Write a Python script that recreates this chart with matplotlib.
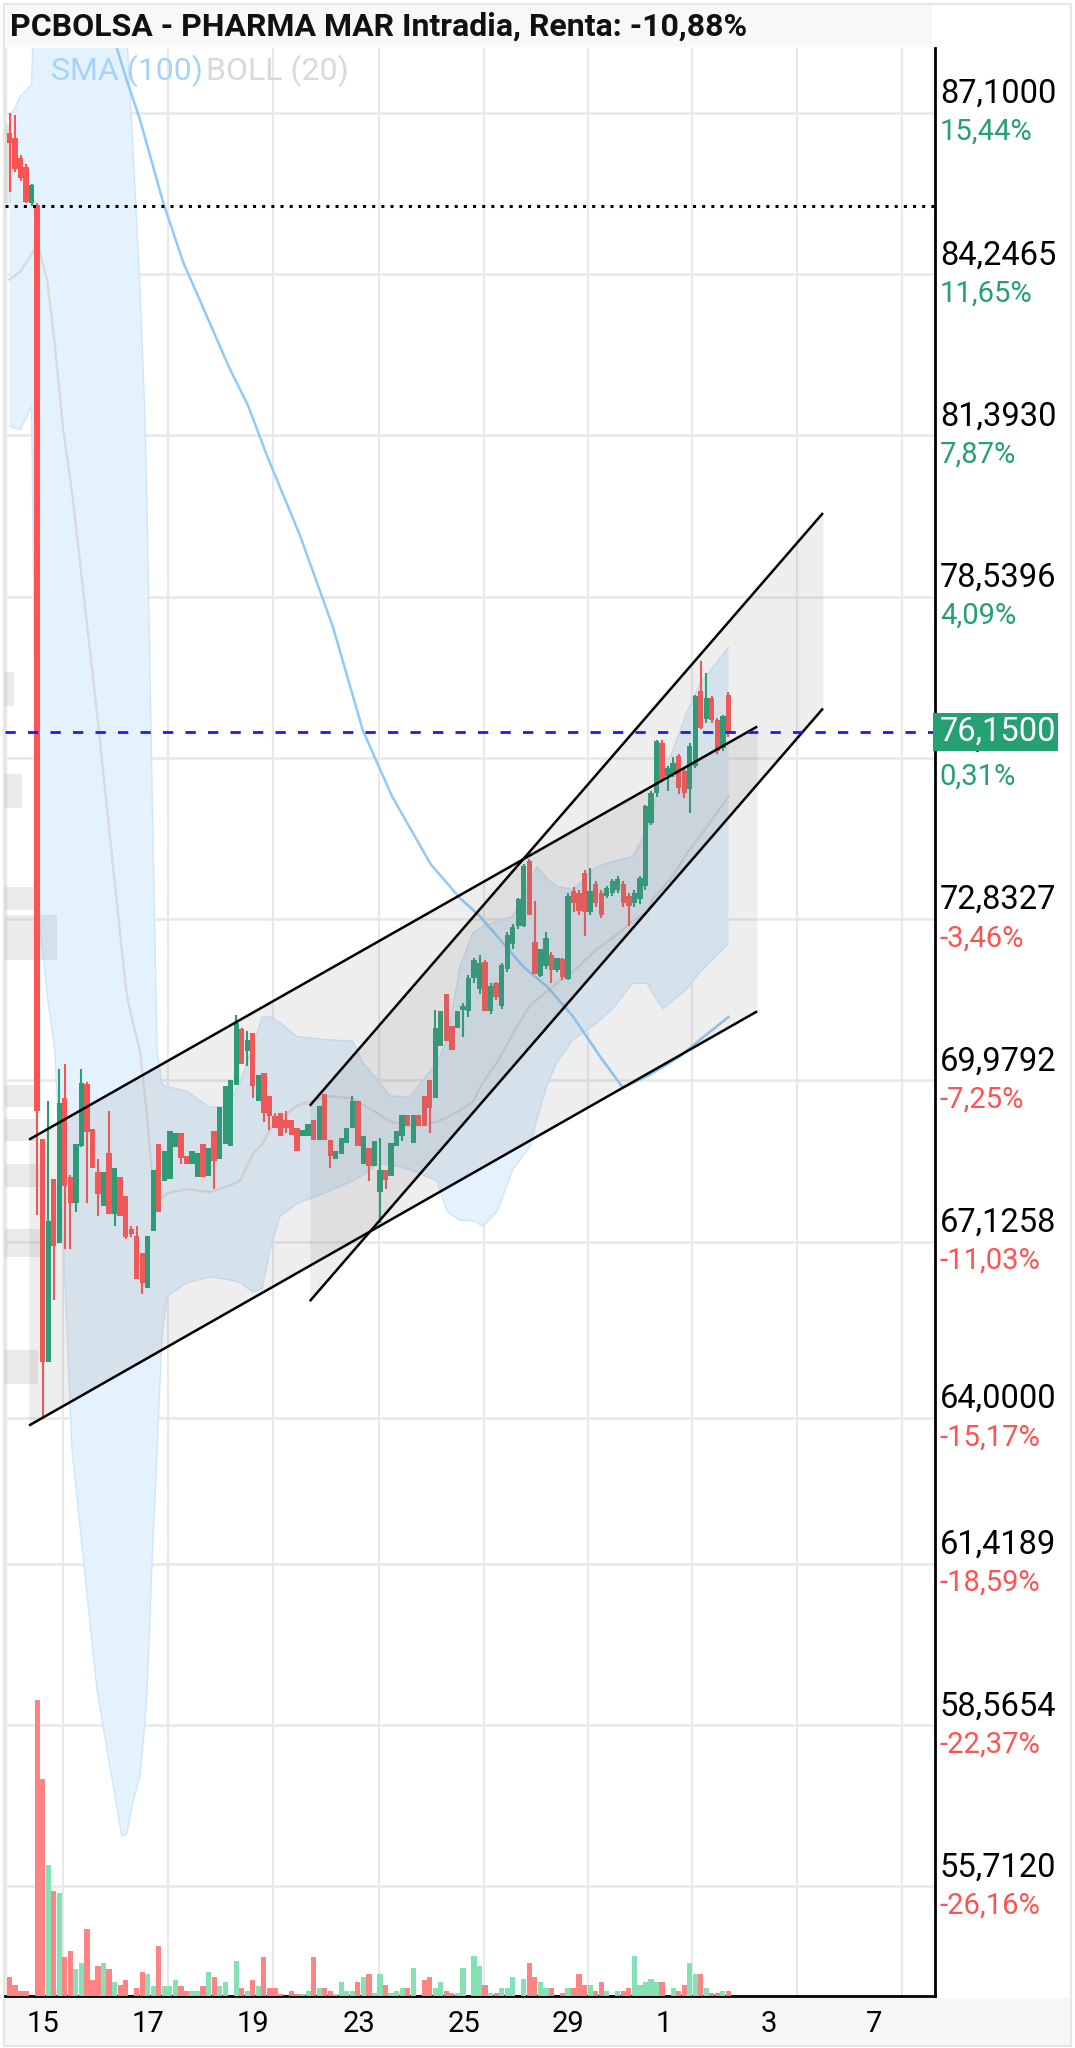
import numpy as np
import matplotlib.pyplot as plt
from matplotlib.patches import Rectangle

plt.rcParams['font.family'] = ['Roboto', 'DejaVu Sans']

# velas (barras horarias)
opens = [86.75, 86.66, 86.30, 86.15, 85.50, 85.47,
         68.94, 64.99, 68.23, 67.10, 69.67, 68.26, 67.81, 68.82, 69.91, 69.11,
         68.35, 67.76, 68.70, 67.61, 68.26, 67.93, 67.35, 67.23, 66.93, 66.31,
         67.31, 68.85, 68.20, 68.23, 68.80, 69.05, 68.64, 68.50, 68.26, 68.85,
         68.29, 69.08, 68.58, 68.85, 68.82,
         69.90, 70.88, 70.50, 70.82, 69.61, 70.11, 69.70, 69.34, 69.40, 69.28,
         69.28, 69.14, 69.00, 69.00, 69.28, 68.93, 69.73, 68.93, 68.58, 68.67,
         68.87, 69.14, 69.61, 68.49, 68.78, 68.46, 68.00, 68.40, 68.28, 68.81,
         69.00, 69.37, 68.87, 69.37, 69.70, 69.99, 69.67, 70.58, 71.50, 70.94,
         70.90, 71.23,
         71.20, 71.79, 71.60, 72.08, 71.20, 71.70, 71.29, 71.95, 72.40, 72.71,
         72.71, 73.86, 72.42, 71.82, 72.00, 72.20, 71.94, 72.12, 71.77, 73.33,
         73.30, 73.65, 72.95, 73.45, 73.30, 73.24, 73.30, 73.35, 73.45, 73.24,
         73.12, 73.18, 73.42, 74.54, 75.07, 75.95, 75.36, 75.40, 75.72, 75.45,
         75.13, 75.54, 76.87, 76.37, 76.74, 76.36, 75.86, 76.80]
highs = [87.10, 87.06, 86.35, 86.20, 85.85, 85.50,
         68.94, 69.61, 68.23, 70.18, 70.26, 68.30, 68.85, 70.18, 69.95, 69.11,
         68.58, 68.35, 69.44, 68.43, 68.26, 67.93, 67.40, 67.40, 66.93, 67.23,
         68.40, 68.85, 68.73, 69.08, 69.05, 69.05, 68.64, 68.73, 68.70, 68.85,
         68.79, 69.08, 69.50, 69.88, 69.99,
         71.14, 70.90, 70.85, 70.82, 70.08, 70.11, 69.70, 69.40, 69.40, 69.43,
         69.28, 69.14, 69.10, 69.20, 69.28, 69.52, 69.73, 68.93, 68.73, 68.96,
         69.14, 69.70, 69.61, 68.99, 68.78, 68.90, 68.96, 68.40, 68.87, 69.08,
         69.37, 69.37, 69.37, 69.37, 69.70, 69.99, 71.23, 71.20, 71.50, 70.94,
         71.20, 71.35,
         71.85, 72.15, 72.20, 72.10, 71.70, 71.72, 72.05, 72.60, 72.75, 73.20,
         73.80, 73.90, 73.15, 72.30, 72.60, 72.25, 72.15, 72.15, 73.30, 73.40,
         73.35, 73.70, 73.74, 73.50, 73.35, 73.42, 73.55, 73.60, 73.50, 73.30,
         73.35, 73.60, 74.85, 75.10, 76.00, 76.00, 75.55, 75.70, 75.75, 75.50,
         75.95, 76.80, 77.40, 77.19, 76.78, 76.40, 76.45, 76.85]
lows = [85.70, 86.05, 85.90, 85.50, 85.46, 67.60,
        64.00, 64.99, 66.10, 67.10, 66.99, 66.99, 67.64, 68.80, 67.81, 68.43,
        67.58, 67.76, 67.61, 67.40, 67.58, 67.17, 67.20, 66.46, 66.19, 66.31,
        67.31, 67.64, 68.20, 68.23, 68.80, 68.50, 68.50, 68.50, 68.26, 68.26,
        68.29, 68.05, 68.58, 68.85, 68.81,
        69.90, 70.26, 70.23, 69.67, 69.61, 69.25, 69.10, 69.14, 68.99, 69.05,
        69.02, 68.72, 69.00, 69.00, 68.93, 68.93, 68.93, 68.43, 68.58, 68.67,
        68.87, 69.14, 68.81, 68.49, 68.20, 68.46, 67.46, 68.05, 68.28, 68.81,
        68.90, 69.17, 68.87, 69.17, 69.17, 69.05, 69.67, 70.58, 70.67, 70.52,
        70.90, 70.75,
        71.10, 71.70, 71.50, 71.20, 71.15, 71.40, 71.25, 71.90, 72.30, 72.65,
        72.70, 72.90, 71.86, 71.80, 71.95, 71.70, 71.90, 71.75, 71.75, 72.95,
        72.90, 72.53, 72.90, 73.05, 72.85, 73.20, 73.25, 73.30, 73.05, 72.71,
        73.05, 73.10, 73.35, 74.50, 75.00, 75.30, 75.10, 75.35, 75.05, 74.98,
        74.71, 75.50, 76.20, 76.30, 76.30, 75.75, 75.80, 76.05]
closes = [86.57, 86.10, 85.95, 85.53, 85.83, 69.44,
          64.99, 67.49, 67.05, 69.58, 68.11, 67.81, 68.85, 69.94, 69.06, 68.43,
          67.96, 68.35, 67.61, 68.43, 67.58, 67.20, 67.26, 66.46, 66.40, 67.23,
          68.40, 67.64, 68.73, 69.08, 69.05, 68.61, 68.50, 68.73, 68.70, 68.26,
          68.79, 68.55, 69.50, 69.88, 69.99,
          71.00, 70.26, 70.70, 69.87, 70.08, 69.40, 69.34, 69.14, 69.00, 69.14,
          69.02, 68.72, 69.10, 69.20, 68.93, 69.52, 68.93, 68.64, 68.73, 68.96,
          69.14, 69.61, 68.81, 68.99, 68.46, 68.90, 68.40, 68.22, 68.87, 69.08,
          69.37, 69.17, 69.37, 69.17, 69.17, 69.49, 70.91, 71.20, 70.67, 70.52,
          71.20, 71.29,
          71.79, 72.11, 72.05, 71.20, 71.65, 71.45, 72.02, 72.55, 72.70, 73.18,
          73.77, 72.90, 71.86, 72.30, 72.50, 71.94, 72.15, 71.80, 73.24, 73.12,
          72.97, 72.95, 73.33, 73.12, 72.90, 73.39, 73.50, 73.55, 73.12, 73.06,
          73.30, 73.56, 74.83, 75.07, 75.98, 75.30, 75.50, 75.60, 75.16, 75.07,
          75.90, 76.78, 76.22, 76.75, 76.36, 75.80, 76.42, 76.15]
volume = [19, 11, 5, 5, 0, 292, 214, 129, 104, 102, 38, 44, 27, 33,
          66, 16, 30, 33, 27, 14, 11, 16, 0, 8, 24, 22, 10, 49, 10,
          10, 16, 10, 5, 5, 5, 10, 24, 19, 10, 14, 0, 35, 8,
          5, 16, 10, 38, 8, 8, 2, 0, 5, 2, 2, 5, 38, 8, 8, 5, 2, 14, 5,
          5, 14, 19,
          22, 3, 22, 11, 3, 5, 8, 8, 28, 0, 16, 19, 8, 14, 5, 3, 3, 28, 0,
          39, 30, 11, 3, 3, 8, 8, 19, 0, 17, 33, 19, 14, 8, 8, 0, 3,
          8, 8, 22, 11, 11, 5, 14, 5, 0, 5, 5, 8, 39, 11, 14, 17, 14, 14, 0,
          8, 5, 11, 33, 22, 22, 8, 3, 3, 5, 5]

# indicadores leidos (posicion en barras)
sma_x = [18.0, 19.4, 21.2, 23.6, 27.8, 31.4, 34.4, 39.7, 43.1, 46.7, 52.5, 58.5,
         63.9, 69.2, 76.2, 81.5, 85.1, 88.7, 92.9, 97.2, 101.9, 106.8, 110.9,
         115.3, 118.2, 121.2, 124.9, 130.0]
sma_v = [89.0, 88.25, 87.68, 86.98, 85.51, 84.46, 83.79, 82.6, 81.93, 81.0, 79.63,
         78.0, 76.17, 75.0, 73.8, 73.2, 72.88, 72.47, 71.99, 71.64, 71.11, 70.4,
         69.85, 70.05, 70.22, 70.4, 70.7, 71.1]

boll_x = [0, 2, 4, 5, 6.8, 8.2, 9.7, 11.3, 15.8, 20.3, 21.2, 22.3, 23.6, 24.5, 24.9,
          25.8, 26.7, 27.6, 28.5, 32.1, 36.3, 39.3, 41.7, 44, 45.7, 47.1, 48.9, 52,
          57.4, 62.1, 63.9, 66.5, 68.8, 72.4, 74.8, 77.3, 79.1, 81.5, 83.8, 85.6,
          88.2, 91, 94.1, 95.4, 97.2, 99, 101.9, 106.2, 109.1, 112.7, 115.3, 116.4,
          118.2, 120, 122.5, 124.9, 130]
boll_up = [87.0, 87.4, 87.6, 91.5, 92.5, 93, 93, 93, 92.5, 91, 88.5, 86.5, 84, 81.7, 80,
           75, 70.5, 69.9, 69.87, 69.78, 69.5, 69.52, 69.94, 70.6, 71.1, 71.1, 71.0,
           70.75, 70.7, 70.67, 70.29, 69.99, 69.7, 69.68, 69.99, 70.29, 70.7, 72.0,
           72.59, 72.7, 72.8, 72.88, 73.5, 73.76, 73.55, 73.41, 73.36, 73.76, 73.85,
           73.94, 74.4, 74.82, 75.4, 75.83, 76.5, 77.0, 77.64]
boll_mid = [84.15, 84.3, 84.6, 84.8, 84.15, 83.0, 81.5, 80.4, 76.5, 72.3, 71.5, 71.0,
            70.5, 69.7, 69.3, 68.3, 67.82, 67.9, 67.98, 68.05, 68.0, 68.1, 68.2, 68.68,
            68.85, 69.1, 69.3, 69.53, 69.7, 69.66, 69.55, 69.4, 69.25, 69.18, 69.18,
            69.25, 69.32, 69.45, 69.6, 69.94, 70.3, 70.8, 71.3, 71.41, 71.55, 71.7,
            71.9, 72.3, 72.5, 72.8, 72.95, 73.2, 73.4, 73.6, 74.0, 74.3, 75.0]
boll_low = [81.55, 81.5, 81.9, 73.2, 71.5, 70.5, 67.2, 63.45, 59.2, 56.6, 56.64, 57.2,
            57.66, 58.62, 59.2, 61.5, 63.45, 65.5, 66.16, 66.4, 66.5, 66.46, 66.4,
            66.23, 66.3, 66.99, 67.57, 67.8, 68.0, 68.2, 68.3, 68.5, 68.5, 68.4, 68.3,
            68.2, 67.66, 67.5, 67.5, 67.4, 67.66, 68.4, 68.8, 69.3, 69.9, 70.3, 70.7,
            71.0, 71.25, 71.7, 71.7, 71.5, 71.25, 71.4, 71.6, 71.9, 72.4]

# volumen por precio (gris a la izquierda)
vp_price = [86.2, 76.9, 75.1, 73.2, 72.5, 69.7, 69.1, 68.3, 67.1, 64.9]
vp_size = [6, 9, 17, 33, 52, 33, 33, 40, 40, 33]
vp_height = [1.4, 0.6, 0.6, 0.4, 0.8, 0.4, 0.4, 0.4, 0.5, 0.6]

# canales dibujados
ch1_x = [3.53, 135.2]
ch1_up = [68.93, 76.24]
ch1_lo = [63.87, 71.2]
ch2_x = [54.3, 147.1]
ch2_up = [69.53, 80.02]
ch2_lo = [66.07, 76.56]

grid_prices = [87.1000, 84.2465, 81.3930, 78.5396, 75.6861, 72.8327, 69.9792,
               67.1258, 64.0000, 61.4189, 58.5654, 55.7120]
grid_pcts = ['15,44%', '11,65%', '7,87%', '4,09%', '0,31%', '-3,46%', '-7,25%',
             '-11,03%', '-15,17%', '-18,59%', '-22,37%', '-26,16%']
last_price = 76.15
prev_close = 85.45
day_grid = [9.67, 28.66, 47.65, 66.82, 85.8, 104.6, 123.4, 142.4, 161.4]
day_labels = ['15', '17', '19', '23', '25', '29', '1', '3', '7']

W, H = 1075, 2048
fig = plt.figure(figsize=(W / 100, H / 100), dpi=100)
fig.patch.set_facecolor('white')

ax = fig.add_axes([5 / W, 52 / H, 930 / W, 1948 / H])
ax.set_xlim((5 - 9.5) / 5.53, (935 - 9.5) / 5.53)
ax.set_ylim(53.773, 88.25)
ax.set_xticks([])
ax.set_yticks([])
for s in ['top', 'left']:
    ax.spines[s].set_visible(False)
for s in ['right', 'bottom']:
    ax.spines[s].set_color('black')
    ax.spines[s].set_linewidth(2.0)

# rejilla
GRID = '#e8e8e8'
for p in grid_prices:
    ax.axhline(p, color=GRID, lw=1.8, zorder=0.5)
for g in day_grid:
    ax.axvline(g, color=GRID, lw=1.5, zorder=0.5)
ax.axvline(ax.get_xlim()[0], color=GRID, lw=2.5, zorder=0.5)

# bandas de bollinger
ax.fill_between(boll_x, boll_low, boll_up, color='#e3f2fd', lw=0, zorder=1)
ax.plot(boll_x, boll_up, color='#cfe6fa', lw=1.0, zorder=1.1)
ax.plot(boll_x, boll_low, color='#cfe6fa', lw=1.0, zorder=1.1)
ax.plot(boll_x, boll_mid, color='#d9d9d9', lw=1.6, zorder=1.2)

# volumen por precio
xl = ax.get_xlim()[0]
ax.barh(vp_price, np.array(vp_size) / 5.53, height=vp_height, left=xl,
        color='#9e9e9e', alpha=0.2, lw=0, zorder=1.3)

# media 100
ax.plot(sma_x, sma_v, color='#90caf9', lw=1.8, zorder=2.5)

# velas
x = np.arange(len(closes))
o = np.array(opens)
c = np.array(closes)
up = c >= o
col = np.where(up, '#22a077', '#ff5252')
ax.vlines(x, lows, highs, colors=col, lw=1.5, zorder=3)
body = np.maximum(np.abs(c - o), 0.04)
ax.bar(x, body, bottom=np.minimum(o, c), width=0.96, color=col, lw=0, zorder=3)

# canales
for cx, cu, cl in [(ch1_x, ch1_up, ch1_lo), (ch2_x, ch2_up, ch2_lo)]:
    ax.fill_between(cx, cl, cu, color='#808080', alpha=0.135, lw=0, zorder=4)
    ax.plot(cx, cu, color='black', lw=1.8, zorder=5, solid_capstyle='butt')
    ax.plot(cx, cl, color='black', lw=1.8, zorder=5, solid_capstyle='butt')

# lineas de referencia
ax.axhline(prev_close, color='black', lw=2.2, ls=(0, (1, 2.0)), zorder=6)
ax.axhline(last_price, color='#1a1aff', lw=2.0, ls=(0, (3.7, 4.4)), zorder=6)

# volumen
axv = ax.twinx()
axv.set_ylim(0, max(volume) * 1948 / 296)
axv.set_xlim(ax.get_xlim())
axv.axis('off')
vcol = np.where(up, '#84e1b3', '#ff8383')
axv.bar(x, volume, width=0.94, color=vcol, lw=0)

# etiquetas de precio a la derecha
ytr = ax.get_yaxis_transform()
for p, pct in zip(grid_prices, grid_pcts):
    ax.annotate(f'{p:.4f}'.replace('.', ','), xy=(1, p), xycoords=ytr,
                xytext=(3.5, 13.7), textcoords='offset points', ha='left',
                va='center', fontsize=23.5, color='black', annotation_clip=False)
    ax.annotate(pct, xy=(1, p), xycoords=ytr, xytext=(3.5, -13.7),
                textcoords='offset points', ha='left', va='center', fontsize=21,
                color='#ff5252' if pct.startswith('-') else '#26a072',
                annotation_clip=False)

# precio actual
ax.add_patch(Rectangle((0.9978, last_price - 0.336), 0.1344, 0.672, transform=ytr,
                       facecolor='#26a072', edgecolor='none', clip_on=False, zorder=10))
ax.text(1.0054, last_price, f'{last_price:.4f}'.replace('.', ','), transform=ytr,
        ha='left', va='center', fontsize=23.5, color='white', zorder=11, clip_on=False)

# eje de fechas
xtr = ax.get_xaxis_transform()
for g, lab in zip(day_grid, day_labels):
    ax.text(g - 6.5, -0.0144, lab, transform=xtr, ha='left', va='center',
            fontsize=21, color='black', clip_on=False)

# fondos de titulo y eje inferior
fig.add_artist(Rectangle((7 / W, 1 - 47 / H), 925 / W, 43 / H, transform=fig.transFigure,
                         facecolor='#f8f8f8', edgecolor='none', zorder=-1))
fig.add_artist(Rectangle((5 / W, 1 - 2046 / H), 1065 / W, 48 / H, transform=fig.transFigure,
                         facecolor='#f6f6f6', edgecolor='none', zorder=-1))
fig.add_artist(Rectangle((4 / W, 1 - 2046 / H), 1067 / W, 2042 / H, transform=fig.transFigure,
                         facecolor='none', edgecolor='#e6e6e6', lw=1.5, zorder=-1))

fig.text(10 / W, 1 - 27 / H, 'PCBOLSA - PHARMA MAR Intradia, Renta: -10,88%',
         fontsize=23, fontweight='bold', va='center', ha='left', color='#111111')
fig.text(51 / W, 1 - 71 / H, 'SMA (100)', fontsize=23, va='center', ha='left',
         color='#a6d3f8')
fig.text(206 / W, 1 - 71 / H, 'BOLL (20)', fontsize=23, va='center', ha='left',
         color='#d9d9d9')

fig.savefig('out.png', dpi=100)
